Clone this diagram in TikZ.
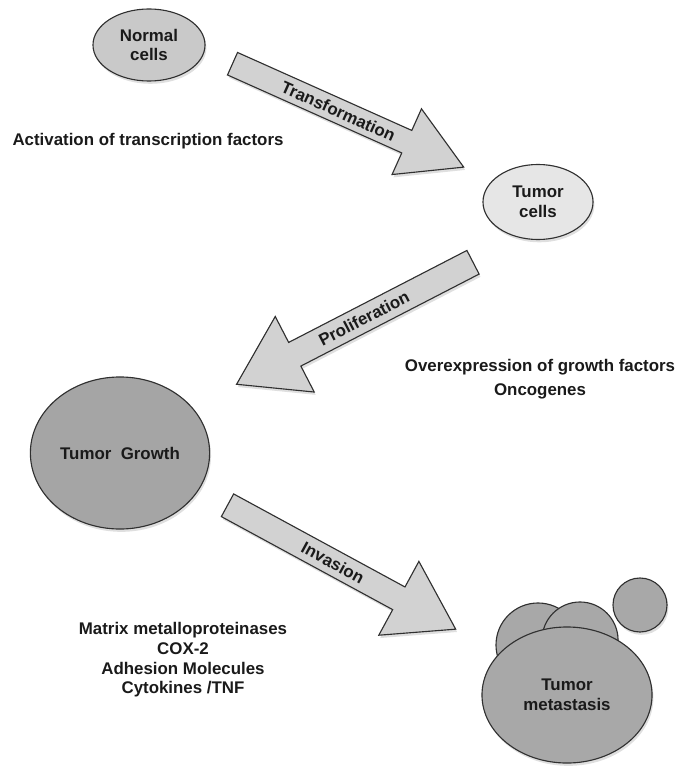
\documentclass[tikz,border=0pt]{standalone}
\usepackage{fontspec}
\setmainfont{Liberation Sans}
\usepackage{tikz}
\usetikzlibrary{shapes, shadows, positioning}

\definecolor{edgegray}{HTML}{303030}
\definecolor{textgray}{HTML}{1A1A1A}
\definecolor{normalgray}{HTML}{C9C9C9}
\definecolor{tumorgray}{HTML}{E6E6E6}
\definecolor{growthgray}{HTML}{A5A5A5}
\definecolor{metagray}{HTML}{A8A8A8}
\definecolor{arrowgray}{HTML}{D2D2D2}

\begin{document}
\begin{tikzpicture}[
  x=0.025cm, y=-0.025cm,
  cellnode/.style={draw=edgegray, ellipse, line width=0.8pt, inner sep=0pt, align=center,
    font=\fontsize{12}{14}\selectfont\bfseries, text=textgray,
    drop shadow={shadow xshift=1pt, shadow yshift=-2pt, opacity=0.25}},
  stagearrow/.style={draw=edgegray, single arrow, fill=arrowgray, line width=0.8pt, anchor=tail,
    inner sep=2pt, font=\fontsize{12}{14}\selectfont\bfseries, text=textgray,
    drop shadow={shadow xshift=1pt, shadow yshift=-2pt, opacity=0.25}},
  notetext/.style={align=center, font=\fontsize{12}{14}\selectfont\bfseries, text=textgray}
]
\useasboundingbox (0,0) rectangle (675,766);

% cells
\node[cellnode, fill=normalgray, minimum width=2.8cm, minimum height=1.8cm] (Normal) at (149,45) {Normal\\cells};
\node[cellnode, fill=tumorgray, minimum width=2.75cm, minimum height=1.875cm] (Tumor) at (538,202) {Tumor\\cells};
\node[cellnode, fill=growthgray, minimum width=4.48cm, minimum height=3.8cm] (Growth) at (120,453) {Tumor\ \ Growth};

% metastasis cluster
\node[cellnode, circle, fill=metagray, minimum size=2.1cm] (MetaL) at (538,645) {};
\node[cellnode, circle, fill=metagray, minimum size=1.9cm] (MetaR) at (580,640) {};
\node[cellnode, circle, fill=metagray, minimum size=1.35cm] (MetaS) at (640,605) {};
\node[cellnode, fill=metagray, minimum width=4.25cm, minimum height=3.4cm] (Meta) at (567,695) {Tumor\\metastasis};

% stage arrows
\node[stagearrow, rotate=-24.1, minimum height=6.33cm, minimum width=1.8cm,
  single arrow head extend=0.46cm, single arrow tip angle=60] (Transform) at (232,63.5) {Transformation};
\node[stagearrow, shape border rotate=180, rotate=27.3, minimum height=6.65cm, minimum width=2.125cm,
  single arrow head extend=0.525cm, single arrow tip angle=66] (Prolif) at (473.5,262) {Proliferation};
\node[stagearrow, rotate=-28.5, minimum height=6.49cm, minimum width=2.1cm,
  single arrow head extend=0.54cm, single arrow tip angle=66] (Invade) at (227,505) {Invasion};

% notes
\node[notetext] (ActNote) at (148,141) {Activation of transcription factors};
\node[notetext, font=\fontsize{12}{17}\selectfont\bfseries] (GrowNote) at (540,379) {Overexpression of growth factors\\Oncogenes};
\node[notetext] (InvNote) at (183,660) {Matrix metalloproteinases\\COX-2\\Adhesion Molecules\\Cytokines /TNF};

\end{tikzpicture}
\end{document}
